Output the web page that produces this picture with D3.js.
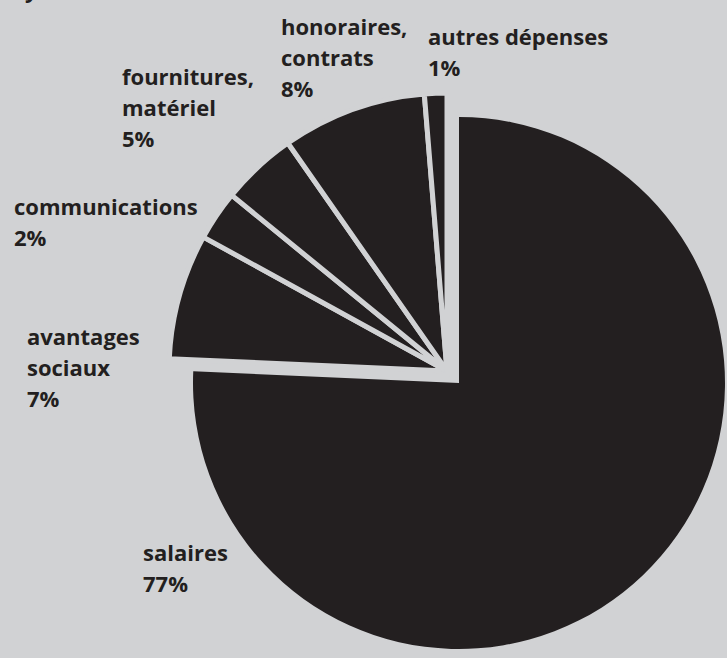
<!DOCTYPE html>
<html>
<head>
<meta charset="utf-8">
<script src="https://cdn.jsdelivr.net/npm/d3@7"></script>
<style>
  html, body { margin: 0; padding: 0; background: #d1d2d4; }
  #chart { width: 727px; height: 658px; overflow: hidden; }
  text { font-family: "Open Sans", "DejaVu Sans", sans-serif; font-weight: 700; fill: #231f20; }
</style>
</head>
<body>
<div id="chart"></div>
<script>
// slice shares (labels show rounded %)
const categories = ['salaires', 'avantages sociaux', 'communications', 'fournitures, matériel', 'honoraires, contrats', 'autres dépenses'];
const shares = [75.7, 7.3, 2.9, 4.4, 8.4, 1.3];
const labelLines = [
  ['salaires', '77%'],
  ['avantages', 'sociaux', '7%'],
  ['communications', '2%'],
  ['fournitures,', 'matériel', '5%'],
  ['honoraires,', 'contrats', '8%'],
  ['autres dépenses', '1%']
];
// label anchor (left x, first baseline y)
const labelPos = [[143, 561], [27, 345], [14, 215], [122, 85], [281, 35], [428, 45]];

const W = 727, H = 658;
const bg = '#d1d2d4', ink = '#231f20';

const svg = d3.select('#chart').append('svg')
  .attr('width', W).attr('height', H);

svg.append('rect').attr('width', W).attr('height', H).attr('fill', bg);

const pie = d3.pie().sort(null).value(d => d)(shares);

// big slice is pushed out from the rest
const mainCenter = [459, 383], mainR = 266;
const restCenter = [447, 371], restR = 278;

const arcMain = d3.arc().innerRadius(0).outerRadius(mainR);
const arcRest = d3.arc().innerRadius(0).outerRadius(restR);

svg.append('g')
  .attr('transform', `translate(${restCenter[0]},${restCenter[1]})`)
  .selectAll('path')
  .data(pie.slice(1))
  .join('path')
  .attr('d', arcRest)
  .attr('fill', ink)
  .attr('stroke', bg)
  .attr('stroke-width', 5)
  .attr('stroke-linejoin', 'miter');

svg.append('g')
  .attr('transform', `translate(${mainCenter[0]},${mainCenter[1]})`)
  .append('path')
  .attr('d', arcMain(pie[0]))
  .attr('fill', ink);

// labels
const lineH = 31;
labelLines.forEach((lines, i) => {
  const t = svg.append('text')
    .attr('x', labelPos[i][0]).attr('y', labelPos[i][1])
    .style('font-size', '22px');
  lines.forEach((s, j) => {
    t.append('tspan').attr('x', labelPos[i][0]).attr('dy', j === 0 ? 0 : lineH).text(s);
  });
});

// cut-off descender from a title above the frame
svg.append('text').attr('x', 25).attr('y', -2).style('font-size', '22px').text('y');
</script>
</body>
</html>
